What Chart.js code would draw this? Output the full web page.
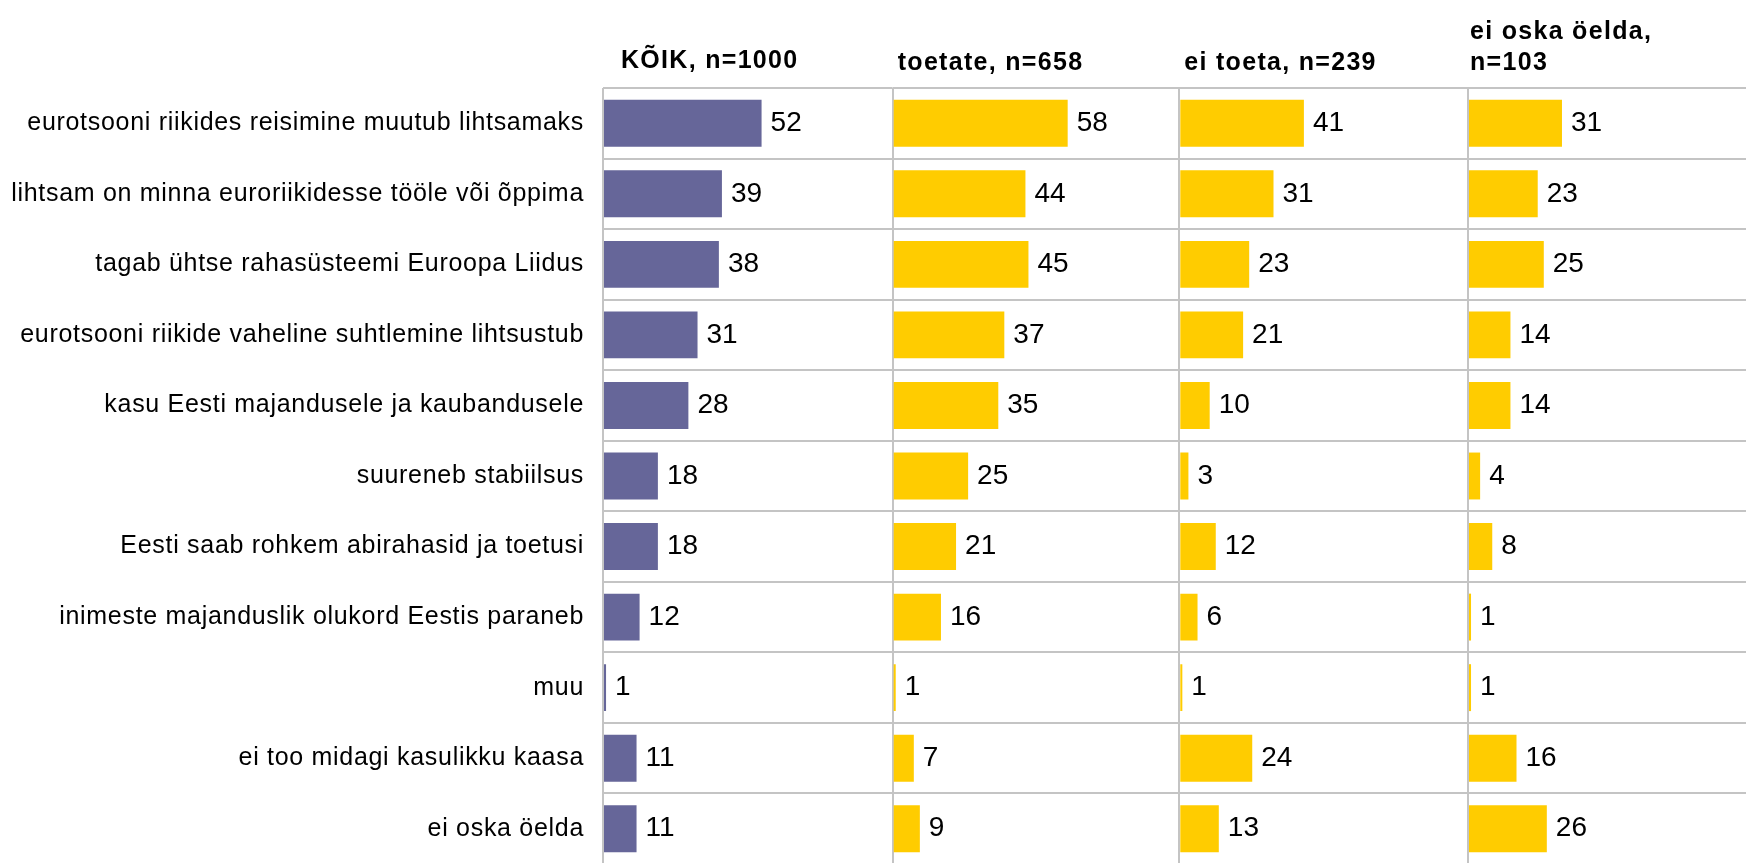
<!DOCTYPE html>
<html>
<head>
<meta charset="utf-8">
<script src="https://cdn.jsdelivr.net/npm/chart.js@4.4.1/dist/chart.umd.min.js"></script>
<style>
  html, body { margin: 0; padding: 0; background: #fff; overflow: hidden; }
  #wrap { position: relative; width: 1746px; height: 863px; overflow: hidden; }
  #wrap canvas { position: absolute; left: 0; top: 0; }
</style>
</head>
<body>
<div id="wrap">
  <canvas id="panel-koik" width="1760" height="870"></canvas>
  <canvas id="panel-toetate" width="1760" height="870"></canvas>
  <canvas id="panel-eitoeta" width="1760" height="870"></canvas>
  <canvas id="panel-eioska" width="1760" height="870"></canvas>
</div>
<script>
  // answers (%), top to bottom
  const categories = [
    "eurotsooni riikides reisimine muutub lihtsamaks",
    "lihtsam on minna euroriikidesse tööle või õppima",
    "tagab ühtse rahasüsteemi Euroopa Liidus",
    "eurotsooni riikide vaheline suhtlemine lihtsustub",
    "kasu Eesti majandusele ja kaubandusele",
    "suureneb stabiilsus",
    "Eesti saab rohkem abirahasid ja toetusi",
    "inimeste majanduslik olukord Eestis paraneb",
    "muu",
    "ei too midagi kasulikku kaasa",
    "ei oska öelda",
  ];
  const koik = [52, 39, 38, 31, 28, 18, 18, 12, 1, 11, 11];
  const toetate = [58, 44, 45, 37, 35, 25, 21, 16, 1, 7, 9];
  const eiToeta = [41, 31, 23, 21, 10, 3, 12, 6, 1, 24, 13];
  const eiOska = [31, 23, 25, 14, 14, 4, 8, 1, 1, 16, 26];

  const titleKoik = ["KÕIK, n=1000"];
  const titleToetate = ["toetate, n=658"];
  const titleEiToeta = ["ei toeta, n=239"];
  const titleEiOska = ["ei oska öelda,", "n=103"];

  const FONT = "'Liberation Sans', Arial, Helvetica, sans-serif";
  const GRID = "#c4c4c4";
  const CANVAS_W = 1760;

  // draws the panel heading above the plot area
  const panelTitlePlugin = {
    id: "panelTitle",
    afterDraw(chart, args, opts) {
      let ctx = chart.ctx;
      ctx.save();
      ctx.letterSpacing = "1.3px";
      ctx.font = "bold 25px " + FONT;
      ctx.fillStyle = "#000";
      ctx.textAlign = "left";
      ctx.textBaseline = "alphabetic";
      opts.lines.forEach(function (line, i) {
        ctx.fillText(line, chart.chartArea.left + opts.dx, opts.baselines[i]);
      });
      ctx.restore();
    },
  };

  // value next to the end of each bar
  const valueLabelPlugin = {
    id: "valueLabels",
    afterDatasetsDraw(chart) {
      let ctx = chart.ctx;
      ctx.save();
      ctx.letterSpacing = "0px";
      ctx.font = "28px " + FONT;
      ctx.fillStyle = "#000";
      ctx.textAlign = "left";
      ctx.textBaseline = "middle";
      chart.data.datasets.forEach(function (ds, di) {
        chart.getDatasetMeta(di).data.forEach(function (bar, i) {
          ctx.fillText(String(ds.data[i]), bar.x + 9, bar.y);
        });
      });
      ctx.restore();
    },
  };

  // the category labels are set a bit wide in the original
  const spacingPlugin = {
    id: "spacing",
    beforeDraw(chart) {
      chart.ctx.letterSpacing = "0.7px";
    },
  };

  function makePanel(id, values, color, title, opt) {
    let ctx = document.getElementById(id).getContext("2d");
    return new Chart(ctx, {
      type: "bar",
      data: {
        labels: categories,
        datasets: [
          {
            data: values,
            backgroundColor: color,
            borderWidth: 0,
            barPercentage: 0.665,
            categoryPercentage: 1,
          },
        ],
      },
      options: {
        indexAxis: "y",
        responsive: false,
        animation: false,
        devicePixelRatio: 1,
        layout: {
          padding: {
            left: opt.showLabels ? 0 : opt.left,
            right: CANVAS_W - opt.right,
            top: 88,
            bottom: 6,
          },
        },
        plugins: {
          legend: { display: false },
          tooltip: { enabled: false },
          panelTitle: { lines: title, dx: opt.dx, baselines: opt.baselines },
        },
        scales: {
          x: {
            min: 0,
            max: 95,
            ticks: { display: false, stepSize: 95 },
            grid: { color: GRID, lineWidth: 2, drawTicks: false },
            border: { display: false },
          },
          y: {
            ticks: {
              display: opt.showLabels,
              autoSkip: false,
              padding: 19,
              color: "#000",
              font: { family: FONT, size: 25 },
            },
            grid: { color: GRID, lineWidth: 2, drawTicks: false, offset: true },
            border: { display: false },
            afterFit: function (scale) {
              // keep every panel on the same rows
              scale.paddingTop = 0;
              scale.paddingBottom = 0;
              if (opt.showLabels) scale.width = opt.left;
            },
          },
        },
      },
      plugins: [spacingPlugin, valueLabelPlugin, panelTitlePlugin],
    });
  }

  makePanel("panel-koik", koik, "#666699", titleKoik, {
    showLabels: true, left: 603, right: 892.7, dx: 18, baselines: [68],
  });
  makePanel("panel-toetate", toetate, "#ffcc00", titleToetate, {
    showLabels: false, left: 892.7, right: 1179.3, dx: 5, baselines: [70],
  });
  makePanel("panel-eitoeta", eiToeta, "#ffcc00", titleEiToeta, {
    showLabels: false, left: 1179.3, right: 1468, dx: 5, baselines: [70],
  });
  makePanel("panel-eioska", eiOska, "#ffcc00", titleEiOska, {
    showLabels: false, left: 1468, right: 1756, dx: 2, baselines: [39, 70],
  });
</script>
</body>
</html>
